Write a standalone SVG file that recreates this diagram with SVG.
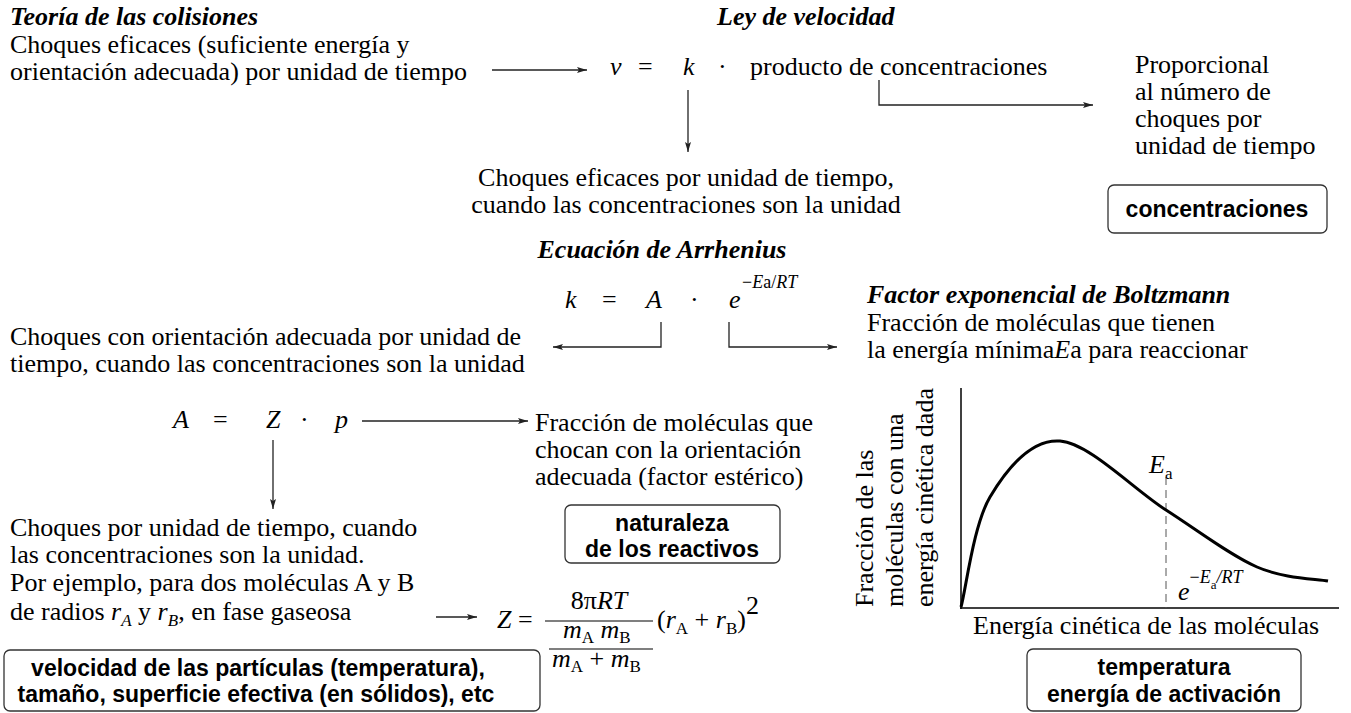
<svg xmlns="http://www.w3.org/2000/svg" width="1351" height="713" viewBox="0 0 1351 713">
<defs>
<marker id="ah" viewBox="0 0 10 6" refX="10" refY="3" markerWidth="10" markerHeight="6" markerUnits="userSpaceOnUse" orient="auto">
<path d="M0,0 L10,3 L0,6 L2,3 z" fill="#222"/>
</marker>
<style>
text{font-family:"Liberation Serif","Times New Roman",serif;font-size:26px;fill:#000}
.h{font-weight:bold;font-style:italic}
.i{font-style:italic}
.b{font-family:"Liberation Sans",Arial,sans-serif;font-weight:bold;font-size:23px;text-anchor:middle}
.s{font-size:17px}
.sup{font-size:18px}
.c{stroke:#222;stroke-width:1.3;fill:none}
.box{fill:#fff;stroke:#333;stroke-width:1.3}
</style>
</defs>
<rect width="1351" height="713" fill="#fff"/>

<g id="colisiones">
<text class="h" x="10" y="25">Teoría de las colisiones</text>
<text x="10" y="53">Choques eficaces (suficiente energía y</text>
<text x="10" y="80">orientación adecuada) por unidad de tiempo</text>
</g>

<g id="ley-velocidad">
<text class="h" x="717" y="25">Ley de velocidad</text>
<text class="i" x="610" y="75">v</text>
<text x="638" y="75">=</text>
<text class="i" x="683" y="75">k</text>
<text x="718" y="75">·</text>
<text x="750" y="75">producto de concentraciones</text>
</g>

<g id="k-def">
<text x="686" y="186" text-anchor="middle">Choques eficaces por unidad de tiempo,</text>
<text x="686" y="213" text-anchor="middle">cuando las concentraciones son la unidad</text>
</g>

<g id="proporcional">
<text x="1135" y="73">Proporcional</text>
<text x="1135" y="100">al número de</text>
<text x="1135" y="127">choques por</text>
<text x="1135" y="154">unidad de tiempo</text>
</g>

<g id="box-concentraciones">
<rect class="box" x="1108" y="185" width="219" height="48" rx="6"/>
<text class="b" x="1217" y="217">concentraciones</text>
</g>

<g id="arrhenius">
<text class="h" x="662" y="258" text-anchor="middle">Ecuación de Arrhenius</text>
<text class="i" x="565" y="308">k</text>
<text x="602" y="308">=</text>
<text class="i" x="646" y="308">A</text>
<text x="690" y="308">·</text>
<text class="i" x="729" y="308">e</text>
<text class="sup" x="742" y="288">−<tspan class="i">E</tspan>a/<tspan class="i">RT</tspan></text>
</g>

<g id="boltzmann">
<text class="h" x="867" y="303">Factor exponencial de Boltzmann</text>
<text x="867" y="331">Fracción de moléculas que tienen</text>
<text x="867" y="358">la energía mínima<tspan class="i">E</tspan>a para reaccionar</text>
</g>

<g id="A-def">
<text x="10" y="345">Choques con orientación adecuada por unidad de</text>
<text x="10" y="372">tiempo, cuando las concentraciones son la unidad</text>
</g>

<g id="A-eq">
<text class="i" x="173" y="428">A</text>
<text x="213" y="428">=</text>
<text class="i" x="266" y="428">Z</text>
<text x="300" y="428">·</text>
<text class="i" x="335" y="428">p</text>
</g>

<g id="p-def">
<text x="535" y="431">Fracción de moléculas que</text>
<text x="535" y="458">chocan con la orientación</text>
<text x="535" y="485">adecuada (factor estérico)</text>
</g>

<g id="box-naturaleza">
<rect class="box" x="565" y="505" width="215" height="58" rx="6"/>
<text class="b" x="672" y="531">naturaleza</text>
<text class="b" x="672" y="557">de los reactivos</text>
</g>

<g id="Z-def">
<text x="10" y="536">Choques por unidad de tiempo, cuando</text>
<text x="10" y="563">las concentraciones son la unidad.</text>
<text x="10" y="591">Por ejemplo, para dos moléculas A y B</text>
<text x="10" y="620">de radios <tspan class="i">r</tspan><tspan class="i s" y="626">A</tspan><tspan y="620"> y </tspan><tspan class="i">r</tspan><tspan class="i s" y="626">B</tspan><tspan y="620">, en fase gaseosa</tspan></text>
</g>

<g id="Z-formula">
<text x="497" y="628"><tspan class="i">Z</tspan> =</text>
<text x="599" y="609" text-anchor="middle">8π<tspan class="i">RT</tspan></text>
<line x1="545" y1="621" x2="653" y2="621" stroke="#000" stroke-width="1.2"/>
<text x="563" y="638"><tspan class="i">m</tspan><tspan class="s" y="643">A</tspan><tspan y="638"> </tspan><tspan class="i">m</tspan><tspan class="s" y="643">B</tspan></text>
<line x1="549" y1="649" x2="653" y2="649" stroke="#000" stroke-width="1.2"/>
<text x="552" y="667"><tspan class="i">m</tspan><tspan class="s" y="672">A</tspan><tspan y="667"> + </tspan><tspan class="i">m</tspan><tspan class="s" y="672">B</tspan></text>
<text x="657" y="628">(<tspan class="i">r</tspan><tspan class="s" y="634">A</tspan><tspan y="628"> + </tspan><tspan class="i">r</tspan><tspan class="s" y="634">B</tspan><tspan y="628">)</tspan><tspan y="614">2</tspan></text>
</g>

<g id="box-velocidad">
<rect class="box" x="4" y="650" width="536" height="61" rx="6"/>
<text class="b" x="258" y="676">velocidad de las partículas (temperatura),</text>
<text class="b" x="256" y="702">tamaño, superficie efectiva (en sólidos), etc</text>
</g>

<g id="graph">
<line x1="961" y1="388" x2="961" y2="609" stroke="#000" stroke-width="1.5"/>
<line x1="960" y1="608" x2="1339" y2="608" stroke="#000" stroke-width="1.5"/>
<line x1="1166" y1="477" x2="1166" y2="608" stroke="#555" stroke-width="1" stroke-dasharray="8,5"/>
<path d="M961,607 C966,589 973.5,524.7 990,497 C1006.5,469.3 1030.7,438.8 1060,441 C1089.3,443.2 1133.2,489 1166,510 C1198.8,531 1230,555.2 1257,567 C1284,578.8 1316.2,578.7 1328,581" fill="none" stroke="#000" stroke-width="3"/>
<text x="1149" y="473"><tspan class="i">E</tspan><tspan class="s" y="479">a</tspan></text>
<text x="1178" y="600"><tspan class="i">e</tspan><tspan class="sup" y="583">−<tspan class="i">E</tspan></tspan><tspan style="font-size:13px" y="589">a</tspan><tspan class="sup i" y="583">/RT</tspan></text>
<text transform="translate(873,607) rotate(-90)">Fracción de las</text>
<text transform="translate(903,607) rotate(-90)">moléculas con una</text>
<text transform="translate(933,607) rotate(-90)">energía cinética dada</text>
<text x="973" y="634">Energía cinética de las moléculas</text>
</g>

<g id="box-temperatura">
<rect class="box" x="1027" y="649" width="274" height="62" rx="6"/>
<text class="b" x="1164" y="675">temperatura</text>
<text class="b" x="1164" y="702">energía de activación</text>
</g>

<g id="connectors">
<line class="c" x1="492" y1="70" x2="587" y2="70" marker-end="url(#ah)"/>
<line class="c" x1="688" y1="90" x2="688" y2="152" marker-end="url(#ah)"/>
<path class="c" d="M879,80 V105 H1093" marker-end="url(#ah)"/>
<path class="c" d="M661,322 V347 H553" marker-end="url(#ah)"/>
<path class="c" d="M729,322 V347 H837" marker-end="url(#ah)"/>
<line class="c" x1="362" y1="421" x2="528" y2="421" marker-end="url(#ah)"/>
<line class="c" x1="273" y1="440" x2="273" y2="509" marker-end="url(#ah)"/>
<line class="c" x1="436" y1="617" x2="477" y2="617" marker-end="url(#ah)"/>
</g>
</svg>
